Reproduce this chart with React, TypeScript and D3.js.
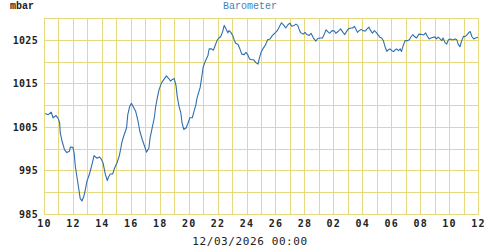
import React from "react";
import * as d3 from "d3";

const TITLE = "Barometer";
const UNIT = "mbar";
const DATE_LABEL = "12/03/2026 00:00";
const START = Date.UTC(2026, 1, 10, 0, 0);
const END = Date.UTC(2026, 2, 12, 0, 0);
const Y_MIN = 985;
const Y_MAX = 1030;
const Y_LABELS = [985, 995, 1005, 1015, 1025];

// hours since 10 Feb 2026 00:00
const hours = [
  2, 7, 12, 15, 20, 24, 26, 27, 30, 34, 38, 42, 44, 48, 50, 52, 55, 58, 60, 63,
  66, 69, 71, 75, 78, 81, 83, 88, 92, 95, 98, 102, 105, 107, 110, 114, 117, 121, 125, 128,
  129, 132, 137, 139, 142, 145, 149, 152, 156, 159, 163, 167, 170, 174, 176, 180, 183, 185, 188, 191,
  195, 199, 203, 207, 210, 213, 216, 219, 221, 224, 227, 229, 232, 236, 239, 242, 246, 249, 252, 254,
  259, 262, 264, 268, 272, 274, 278, 281, 284, 287, 290, 293, 296, 299, 302, 305, 307, 310, 313, 316,
  318, 322, 325, 328, 332, 335, 338, 341, 345, 348, 351, 355, 357, 360, 363, 365, 368, 371, 375, 379,
  383, 387, 390, 394, 398, 401, 405, 408, 411, 415, 418, 421, 424, 426, 430, 433, 436, 440, 443, 447,
  451, 454, 458, 462, 465, 468, 472, 474, 478, 482, 484, 488, 492, 496, 499, 501, 505, 509, 512, 515,
  518, 520, 523, 526, 529, 533, 536, 539, 542, 545, 548, 551, 555, 557, 560, 563, 566, 569, 571, 574,
  577, 580, 582, 585, 588, 591, 593, 596, 599, 603, 606, 609, 612, 614, 618, 622, 627, 630, 633, 636,
  639, 642, 646, 649, 651, 654, 657, 660, 662, 665, 668, 671, 674, 676, 679, 682, 685, 687, 690, 693,
  696, 698, 701, 705, 707, 710, 713, 716, 720,
];

const pressure = [
  1008.1, 1007.8, 1008.4, 1007.1, 1007.6, 1006.8, 1005.9, 1003.6, 1001.7, 999.8, 999.1, 999.4, 1000.4, 1000.3, 999.0, 995.9, 993.2, 990.5, 988.6, 988.0,
  989.0, 990.9, 992.4, 994.0, 995.5, 997.2, 998.4, 997.8, 998.1, 997.6, 996.7, 994.0, 992.7, 993.5, 994.2, 994.2, 995.5, 996.7, 998.4, 1000.5,
  1001.4, 1002.8, 1004.8, 1007.8, 1009.6, 1010.4, 1009.4, 1008.6, 1006.3, 1004.0, 1002.1, 1000.5, 999.2, 1000.1, 1002.5, 1005.1, 1007.1, 1009.4, 1011.7, 1013.6,
  1015.1, 1015.9, 1016.7, 1016.1, 1015.5, 1015.9, 1016.1, 1014.5, 1012.0, 1009.7, 1008.2, 1005.9, 1004.4, 1004.8, 1005.9, 1007.1, 1007.1, 1008.6, 1010.1, 1011.7,
  1014.0, 1016.7, 1018.7, 1020.2, 1021.4, 1022.9, 1022.9, 1022.6, 1023.7, 1024.8, 1025.4, 1025.7, 1026.7, 1028.3, 1027.5, 1026.6, 1027.1, 1026.7, 1026.0, 1024.8,
  1024.2, 1023.9, 1022.9, 1021.7, 1021.6, 1022.1, 1021.6, 1020.6, 1020.4, 1020.4, 1019.8, 1019.4, 1020.6, 1022.1, 1022.9, 1023.3, 1024.0, 1025.0, 1025.2, 1026.0,
  1026.5, 1027.1, 1027.9, 1028.9, 1028.3, 1027.7, 1028.5, 1028.8, 1028.1, 1028.3, 1028.6, 1028.3, 1027.1, 1026.6, 1026.3, 1026.7, 1026.2, 1026.0, 1026.5, 1025.4,
  1024.7, 1025.3, 1025.4, 1025.4, 1026.3, 1027.3, 1026.7, 1026.5, 1027.1, 1027.0, 1026.5, 1026.9, 1027.5, 1026.7, 1026.2, 1026.7, 1027.5, 1027.7, 1027.7, 1028.1,
  1027.3, 1026.7, 1027.1, 1027.4, 1027.1, 1027.0, 1027.5, 1027.9, 1027.1, 1026.5, 1027.1, 1026.7, 1026.0, 1025.6, 1025.4, 1024.8, 1023.3, 1022.3, 1022.7, 1022.9,
  1022.5, 1022.3, 1022.6, 1022.9, 1022.5, 1022.9, 1022.3, 1023.7, 1024.8, 1024.8, 1025.0, 1025.7, 1026.2, 1025.8, 1025.4, 1026.3, 1026.2, 1026.1, 1026.6, 1025.8,
  1025.2, 1025.4, 1025.6, 1025.6, 1025.2, 1025.6, 1025.2, 1024.8, 1025.4, 1024.4, 1024.0, 1025.0, 1025.2, 1025.0, 1025.0, 1025.2, 1025.0, 1024.0, 1023.4, 1024.8,
  1025.8, 1025.7, 1026.0, 1026.7, 1026.9, 1025.7, 1025.2, 1025.4, 1025.6,
];

const W = 500;
const H = 250;
const M = { left: 44, right: 478, top: 18, bottom: 214 };
const GRID = "#e6d97e";
const LINE = "#2f6faf";
const FONT = "'DejaVu Sans Mono', 'Liberation Mono', monospace";
const SERIF_MONO = "'Liberation Mono', 'DejaVu Sans Mono', monospace";

export default function App() {
  const x = d3.scaleUtc().domain([new Date(START), new Date(END)]).range([M.left, M.right]);
  const y = d3.scaleLinear().domain([Y_MIN, Y_MAX]).range([M.bottom, M.top]);

  const dayTicks = d3.utcDay.range(new Date(START), new Date(END + 1));
  const labelTicks = dayTicks.filter((_, i) => i % 2 === 0);
  const yGrid = d3.range(Y_MIN, Y_MAX + 0.01, 5);

  const data = hours.map((h, i) => ({ t: new Date(START + h * 3600000), v: pressure[i] }));
  const line = d3
    .line<{ t: Date; v: number }>()
    .x((d) => x(d.t))
    .y((d) => y(d.v));

  const fmt = d3.utcFormat("%d");

  return (
    <svg
      width={W}
      height={H}
      style={{ position: "absolute", left: 0, top: 0, background: "#fff" }}
      fontFamily={FONT}
    >
      <rect x={0} y={0} width={W} height={H} fill="#fff" />
      {yGrid.map((v) => (
        <line
          key={"h" + v}
          x1={M.left}
          x2={M.right}
          y1={Math.round(y(v)) + 0.5}
          y2={Math.round(y(v)) + 0.5}
          stroke={GRID}
          strokeWidth={1}
        />
      ))}
      {dayTicks.map((d) => (
        <line
          key={"v" + d.getTime()}
          x1={Math.round(x(d)) + 0.5}
          x2={Math.round(x(d)) + 0.5}
          y1={M.top}
          y2={M.bottom + 1}
          stroke={GRID}
          strokeWidth={1}
        />
      ))}
      <path d={line(data) || ""} fill="none" stroke={LINE} strokeWidth={1.1} strokeLinejoin="round" />
      {Y_LABELS.map((v) => (
        <text
          key={"yl" + v}
          x={38}
          y={y(v) + 4}
          textAnchor="end"
          fontSize={10}
          fontWeight="bold"
          fill="#222"
          letterSpacing={0.3}
        >
          {v}
        </text>
      ))}
      {labelTicks.map((d) => (
        <text
          key={"xl" + d.getTime()}
          x={x(d) + 0.5}
          y={227}
          textAnchor="middle"
          fontSize={10}
          fontWeight="bold"
          fill="#222"
          letterSpacing={1.2}
        >
          {fmt(d)}
        </text>
      ))}
      <text x={10} y={9} fontSize={10} fontWeight="bold" fill="#222" fontFamily={SERIF_MONO}>
        {UNIT}
      </text>
      <text x={250} y={9} fontSize={10} textAnchor="middle" fill="#4a80b8" fontFamily={SERIF_MONO}>
        {TITLE}
      </text>
      <text x={250} y={245} fontSize={11} textAnchor="middle" fill="#222" letterSpacing={0.6}>
        {DATE_LABEL}
      </text>
    </svg>
  );
}
